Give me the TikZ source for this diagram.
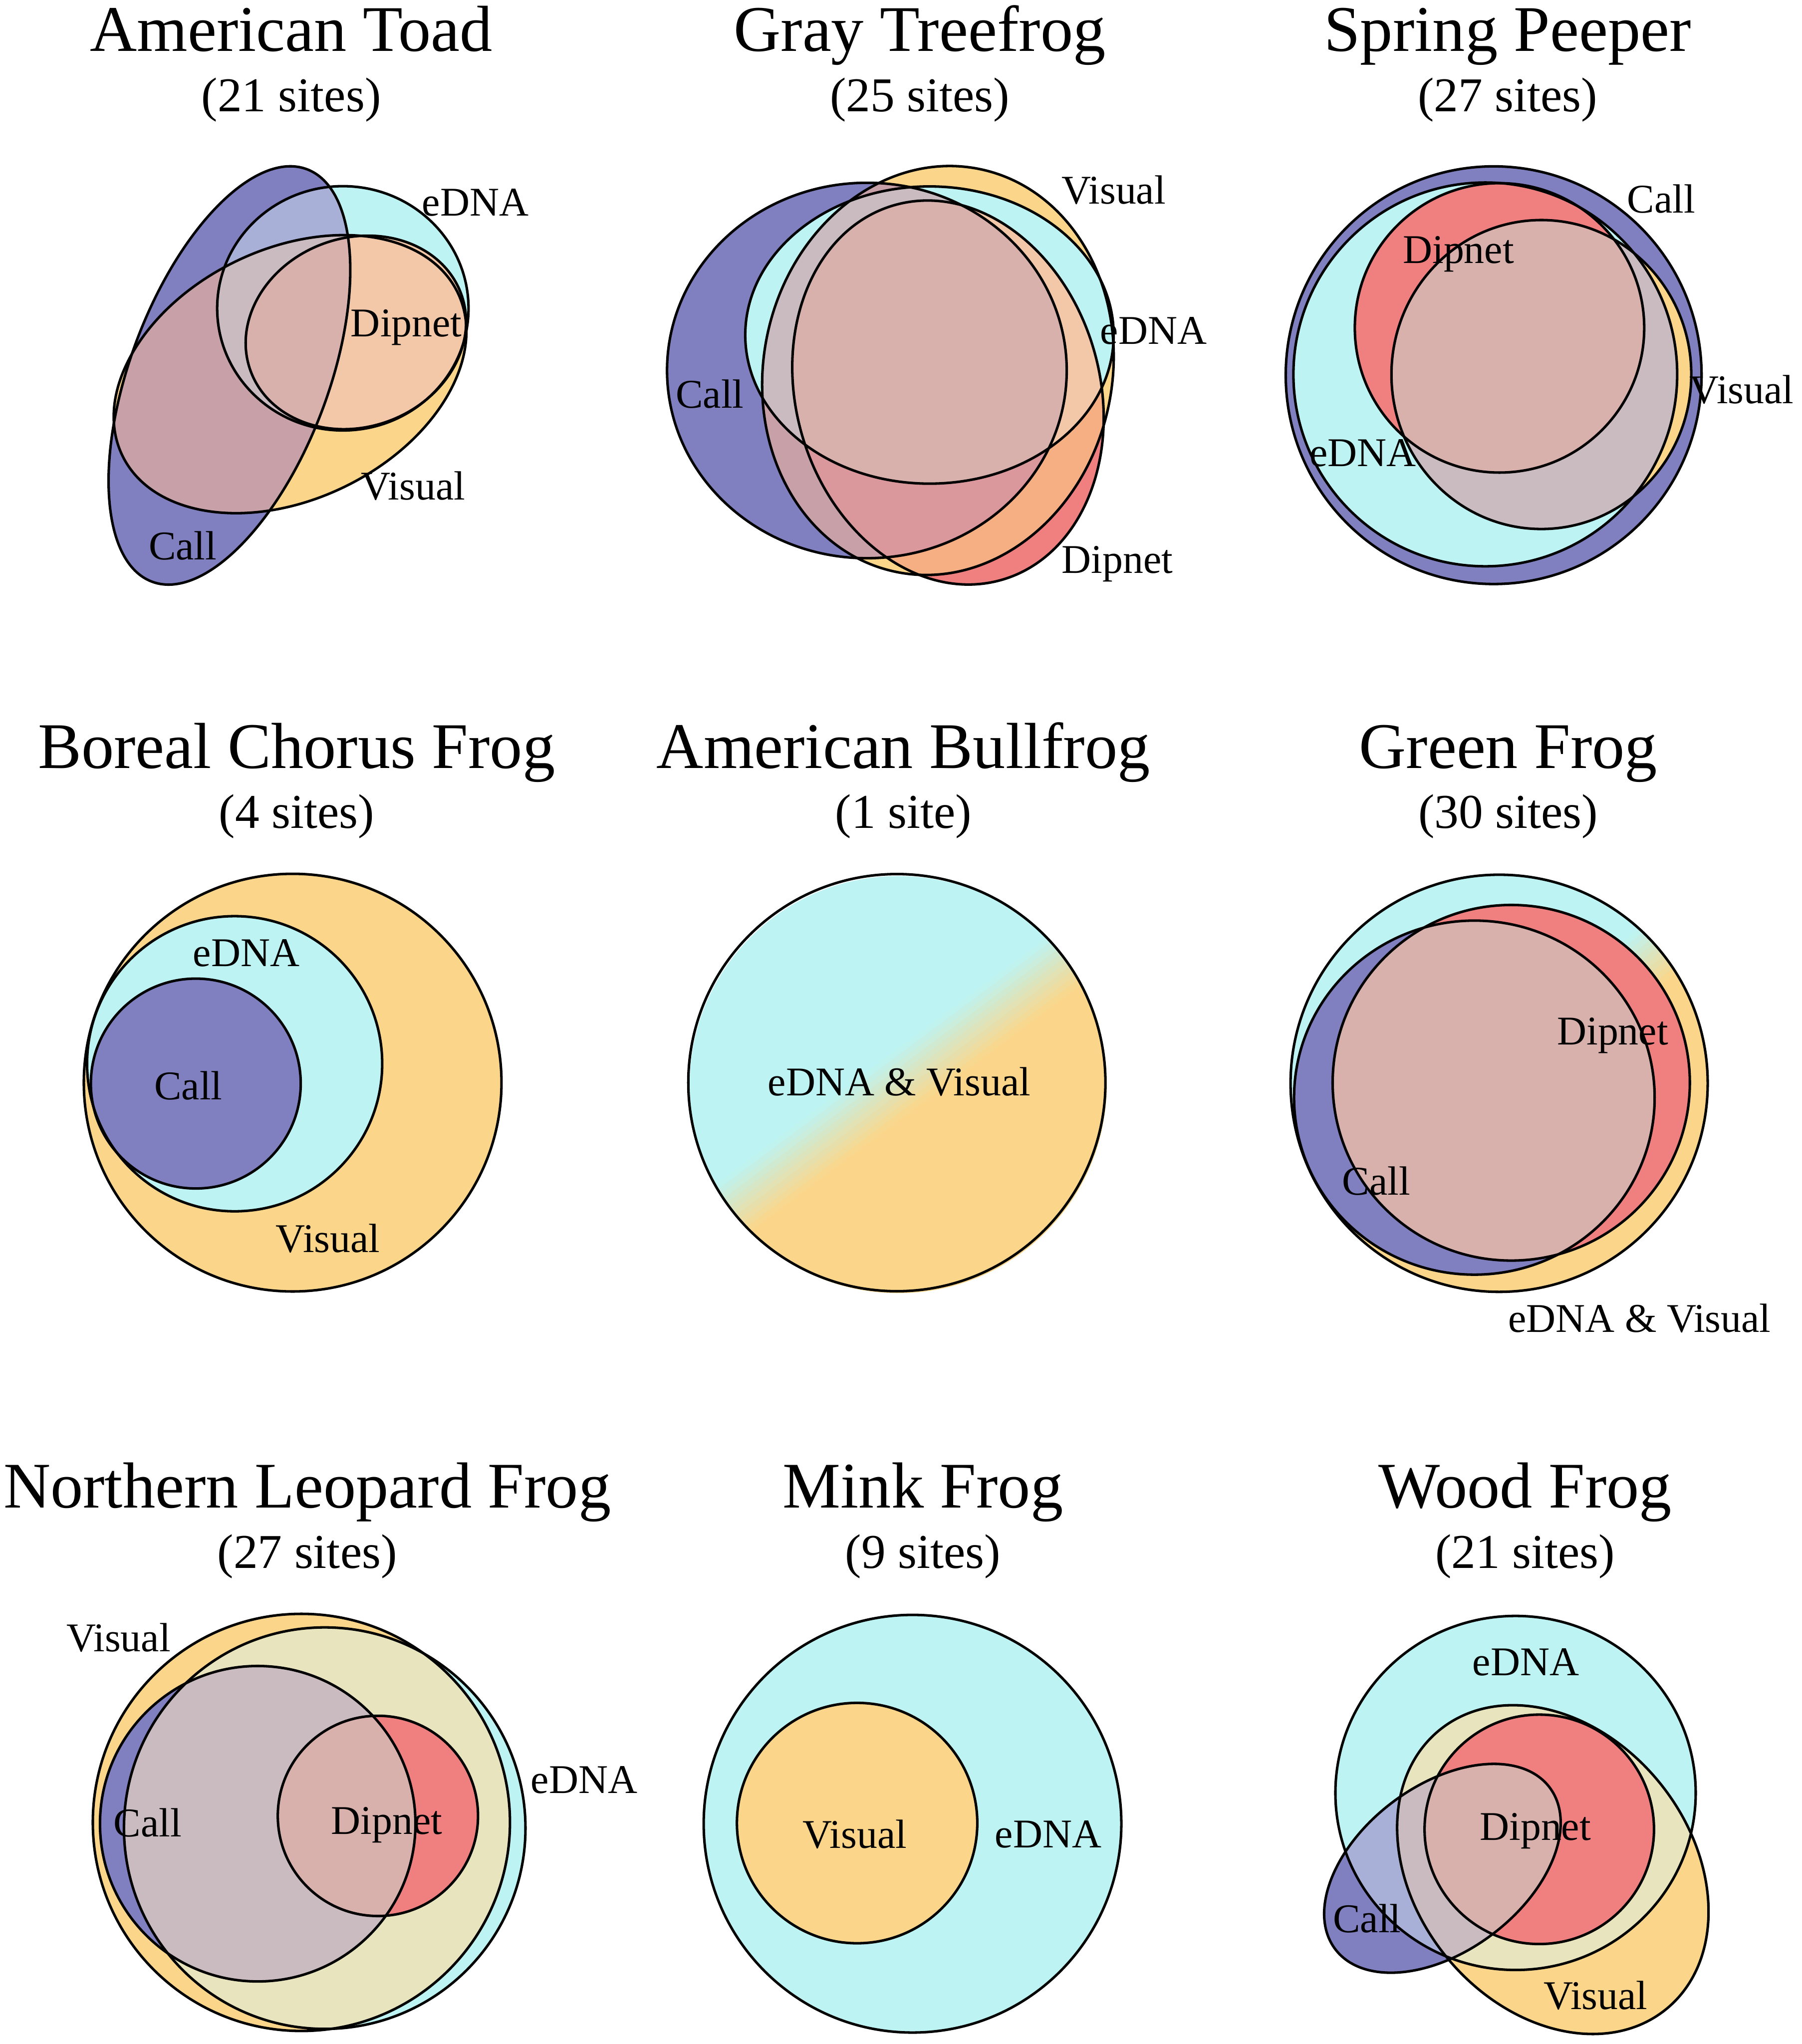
\documentclass[tikz,border=0pt]{standalone}
\usepackage{fontspec}
\setmainfont{Liberation Serif}

% region colours
\definecolor{callfill}{RGB}{128,128,192}
\definecolor{ednafill}{RGB}{189,243,242}
\definecolor{visfill}{RGB}{251,214,138}
\definecolor{dipfill}{RGB}{240,128,128}
\definecolor{lavfill}{RGB}{168,176,216}
\definecolor{mauvefill}{RGB}{199,160,168}
\definecolor{greyfill}{RGB}{201,187,192}
\definecolor{khakifill}{RGB}{232,229,190}
\definecolor{peachfill}{RGB}{242,200,168}
\definecolor{pinkfill}{RGB}{216,176,172}
\definecolor{orangefill}{RGB}{245,175,130}
\definecolor{rosyfill}{RGB}{218,152,156}

\tikzset{
  outline/.style={draw=black,line width=0.55pt},
  lab/.style={font=\fontsize{8.9}{10}\selectfont,inner sep=0pt,text depth=0pt},
  ttl/.style={font=\fontsize{14.2}{16}\selectfont,anchor=base,inner sep=0pt},
  sub/.style={font=\fontsize{10.6}{12}\selectfont,anchor=base,inner sep=0pt}
}

% fill the overlap of two, three or four sets
\newcommand{\regiontwo}[3]{\begin{scope}\clip #1;\fill[#3] #2;\end{scope}}
\newcommand{\regionthree}[4]{\begin{scope}\clip #1;\clip #2;\fill[#4] #3;\end{scope}}
\newcommand{\regionfour}[5]{\begin{scope}\clip #1;\clip #2;\clip #3;\fill[#5] #4;\end{scope}}

% eDNA & Visual disc: cyan to orange across a band
\newcommand{\edvisgrad}[3]{%
  \begin{scope}
    \clip (#1) circle (#2);
    \fill[ednafill] (#1) circle (#2);
    \begin{scope}[shift={(#1)},rotate=#3]
      \fill[visfill] (22,-200) rectangle (200,200);
      \foreach \k in {0,...,10}{
        \pgfmathtruncatemacro\pct{(\k+0.5)*100/11}
        \fill[visfill!\pct!ednafill] ({-22+4*\k},-200) rectangle ({-17.6+4*\k},200);
      }
    \end{scope}
  \end{scope}}

\begin{document}
\begin{tikzpicture}[x=0.01cm,y=-0.01cm,line join=round]
  \useasboundingbox (0,0) rectangle (1382,1568);

  % American Toad
  \begin{scope}
    \def\toadCall{[shift={(176,288)},rotate=69.4] (0,0) ellipse (169 and 76)}
    \def\toadEdna{(263,236.5) ellipse (96.4 and 93.7)}
    \def\toadVis{[shift={(222.5,287)},rotate=26] (0,0) ellipse (143 and 96)}
    \def\toadDip{[shift={(273,255)},rotate=20] (0,0) ellipse (86 and 72.5)}
    \fill[callfill] \toadCall;
    \fill[ednafill] \toadEdna;
    \fill[visfill] \toadVis;
    \regiontwo{\toadCall}{\toadEdna}{lavfill}
    \regiontwo{\toadCall}{\toadVis}{mauvefill}
    \regiontwo{\toadEdna}{\toadVis}{khakifill}
    \regionthree{\toadCall}{\toadEdna}{\toadVis}{greyfill}
    \fill[peachfill] \toadDip;
    \regiontwo{\toadCall}{\toadDip}{pinkfill}
    \draw[outline] \toadCall;
    \draw[outline] \toadEdna;
    \draw[outline] \toadVis;
    \draw[outline] \toadDip;
    \node[ttl] (toadTitle) at (223.4,39.2) {American Toad};
    \node[sub] (toadSites) at (223.4,85.5) {(21 sites)};
    \node[lab] (toadEdnaL) at (364.7,155.1) {eDNA};
    \node[lab] (toadDipL) at (311.7,247.7) {Dipnet};
    \node[lab] (toadVisL) at (317,372.7) {Visual};
    \node[lab] (toadCallL) at (140.2,418.5) {Call};
  \end{scope}

  % Gray Treefrog
  \begin{scope}
    \def\treeCall{(665,284.2) ellipse (153.3 and 144)}
    \def\treeEdna{(713,257) ellipse (141.3 and 114)}
    \def\treeVis{[shift={(719.5,284.2)},rotate=-12] (0,0) ellipse (133.7 and 157.8)}
    \def\treeDip{[shift={(727.2,301.1)},rotate=16] (0,0) ellipse (116.6 and 149.5)}
    \fill[callfill] \treeCall;
    \fill[ednafill] \treeEdna;
    \fill[visfill] \treeVis;
    \fill[dipfill] \treeDip;
    \regiontwo{\treeCall}{\treeEdna}{ednafill}
    \regiontwo{\treeCall}{\treeVis}{mauvefill}
    \regiontwo{\treeEdna}{\treeVis}{ednafill}
    \regiontwo{\treeVis}{\treeDip}{orangefill}
    \regionthree{\treeCall}{\treeEdna}{\treeVis}{greyfill}
    \regionthree{\treeEdna}{\treeVis}{\treeDip}{peachfill}
    \regionthree{\treeCall}{\treeVis}{\treeDip}{rosyfill}
    \regionfour{\treeCall}{\treeEdna}{\treeVis}{\treeDip}{pinkfill}
    \draw[outline] \treeCall;
    \draw[outline] \treeEdna;
    \draw[outline] \treeVis;
    \draw[outline] \treeDip;
    \node[ttl] (treeTitle) at (705.5,39.2) {Gray Treefrog};
    \node[sub] (treeSites) at (705.5,85.5) {(25 sites)};
    \node[lab] (treeVisL) at (854.3,145.4) {Visual};
    \node[lab] (treeEdnaL) at (884.9,253.5) {eDNA};
    \node[lab] (treeCallL) at (544.5,302.2) {Call};
    \node[lab] (treeDipL) at (857.1,429.2) {Dipnet};
  \end{scope}

  % Spring Peeper
  \begin{scope}
    \def\peepCall{(1145.8,287.8) ellipse (159.5 and 160.2)}
    \def\peepEdna{(1139.4,287.2) circle (147.2)}
    \def\peepDip{(1150.3,251.5) circle (111)}
    \def\peepVis{(1182.4,287.3) ellipse (115 and 118.5)}
    \fill[callfill] \peepCall;
    \fill[ednafill] \peepEdna;
    \fill[visfill] \peepVis;
    \fill[dipfill] \peepDip;
    \regiontwo{\peepEdna}{\peepVis}{greyfill}
    \regiontwo{\peepVis}{\peepDip}{pinkfill}
    \draw[outline] \peepCall;
    \draw[outline] \peepEdna;
    \draw[outline] \peepVis;
    \draw[outline] \peepDip;
    \node[ttl] (peepTitle) at (1156.5,39.2) {Spring Peeper};
    \node[sub] (peepSites) at (1156.5,85.5) {(27 sites)};
    \node[lab] (peepCallL) at (1274.4,152.5) {Call};
    \node[lab] (peepDipL) at (1118.8,191.5) {Dipnet};
    \node[lab] (peepVisL) at (1336.1,298.6) {Visual};
    \node[lab] (peepEdnaL) at (1045.5,347.3) {eDNA};
  \end{scope}

  % Boreal Chorus Frog
  \begin{scope}
    \def\borVis{(224.5,830.5) circle (160.2)}
    \def\borEdna{(180,816) circle (113.2)}
    \def\borCall{(150.2,831.2) circle (80.5)}
    \fill[visfill] \borVis;
    \fill[ednafill] \borEdna;
    \fill[callfill] \borCall;
    \draw[outline] \borVis;
    \draw[outline] \borEdna;
    \draw[outline] \borCall;
    \node[ttl] (borTitle) at (227.5,589.4) {Boreal Chorus Frog};
    \node[sub] (borSites) at (227.5,635.2) {(4 sites)};
    \node[lab] (borEdnaL) at (188.9,731) {eDNA};
    \node[lab] (borCallL) at (144.5,832.7) {Call};
    \node[lab] (borVisL) at (251.6,949.6) {Visual};
  \end{scope}

  % American Bullfrog
  \begin{scope}
    \edvisgrad{689,832}{160}{-53.3}
    \draw[outline] (688,830.5) circle (160);
    \node[ttl] (bullTitle) at (693,589.4) {American Bullfrog};
    \node[sub] (bullSites) at (693,635.2) {(1 site)};
    \node[lab] (bullEvL) at (689.9,829.5) {eDNA \& Visual};
  \end{scope}

  % Green Frog
  \begin{scope}
    \def\greenCall{(1131,842) ellipse (138.3 and 135.8)}
    \def\greenDip{(1159.3,830.6) ellipse (137 and 136.4)}
    \edvisgrad{1150,831}{160}{-50}
    \fill[callfill] \greenCall;
    \fill[dipfill] \greenDip;
    \regiontwo{\greenCall}{\greenDip}{pinkfill}
    \draw[outline] (1150,831) circle (160);
    \draw[outline] \greenCall;
    \draw[outline] \greenDip;
    \node[ttl] (greenTitle) at (1157,589.4) {Green Frog};
    \node[sub] (greenSites) at (1157,635.2) {(30 sites)};
    \node[lab] (greenDipL) at (1237.1,791.1) {Dipnet};
    \node[lab] (greenCallL) at (1055.8,905.9) {Call};
    \node[lab] (greenEvL) at (1257.7,1011.1) {eDNA \& Visual};
  \end{scope}

  % Northern Leopard Frog
  \begin{scope}
    \def\leoVis{(231.2,1398) circle (160)}
    \def\leoEdna{(249.1,1402.4) circle (154)}
    \def\leoCall{(197.7,1399) circle (121)}
    \def\leoDip{(289.9,1393) circle (76.8)}
    \fill[visfill] \leoVis;
    \fill[ednafill] \leoEdna;
    \regiontwo{\leoVis}{\leoEdna}{khakifill}
    \fill[callfill] \leoCall;
    \regiontwo{\leoCall}{\leoEdna}{greyfill}
    \fill[dipfill] \leoDip;
    \regiontwo{\leoCall}{\leoDip}{pinkfill}
    \draw[outline] \leoVis;
    \draw[outline] \leoEdna;
    \draw[outline] \leoCall;
    \draw[outline] \leoDip;
    \node[ttl] (leoTitle) at (235.7,1156.7) {Northern Leopard Frog};
    \node[sub] (leoSites) at (235.7,1203.1) {(27 sites)};
    \node[lab] (leoVisL) at (90.9,1256) {Visual};
    \node[lab] (leoEdnaL) at (448.1,1365.3) {eDNA};
    \node[lab] (leoCallL) at (113.2,1397.9) {Call};
    \node[lab] (leoDipL) at (296.6,1396.8) {Dipnet};
  \end{scope}

  % Mink Frog
  \begin{scope}
    \def\minkEdna{(700,1399) circle (160.2)}
    \def\minkVis{(657.5,1398.5) circle (92.2)}
    \fill[ednafill] \minkEdna;
    \fill[visfill] \minkVis;
    \draw[outline] \minkEdna;
    \draw[outline] \minkVis;
    \node[ttl] (minkTitle) at (708,1156.7) {Mink Frog};
    \node[sub] (minkSites) at (708,1203.1) {(9 sites)};
    \node[lab] (minkVisL) at (655.8,1407) {Visual};
    \node[lab] (minkEdnaL) at (804.1,1407) {eDNA};
  \end{scope}

  % Wood Frog
  \begin{scope}
    \def\woodEdna{(1162.6,1375.4) ellipse (138.2 and 135.8)}
    \def\woodVis{[shift={(1191.2,1434.2)},rotate=-51] (0,0) ellipse (137.9 and 105.6)}
    \def\woodDip{(1180.8,1403.3) circle (88)}
    \def\woodCall{[shift={(1106.5,1433.2)},rotate=37] (0,0) ellipse (103 and 63.5)}
    \fill[ednafill] \woodEdna;
    \fill[visfill] \woodVis;
    \fill[callfill] \woodCall;
    \regiontwo{\woodCall}{\woodEdna}{lavfill}
    \regiontwo{\woodEdna}{\woodVis}{khakifill}
    \regiontwo{\woodCall}{\woodVis}{mauvefill}
    \regionthree{\woodCall}{\woodEdna}{\woodVis}{greyfill}
    \fill[dipfill] \woodDip;
    \regiontwo{\woodCall}{\woodDip}{pinkfill}
    \draw[outline] \woodEdna;
    \draw[outline] \woodVis;
    \draw[outline] \woodDip;
    \draw[outline] \woodCall;
    \node[ttl] (woodTitle) at (1170,1156.7) {Wood Frog};
    \node[sub] (woodSites) at (1170,1203.1) {(21 sites)};
    \node[lab] (woodEdnaL) at (1170.5,1274.9) {eDNA};
    \node[lab] (woodDipL) at (1177.8,1401.1) {Dipnet};
    \node[lab] (woodCallL) at (1048.7,1471.7) {Call};
    \node[lab] (woodVisL) at (1224,1530.5) {Visual};
  \end{scope}
\end{tikzpicture}
\end{document}
